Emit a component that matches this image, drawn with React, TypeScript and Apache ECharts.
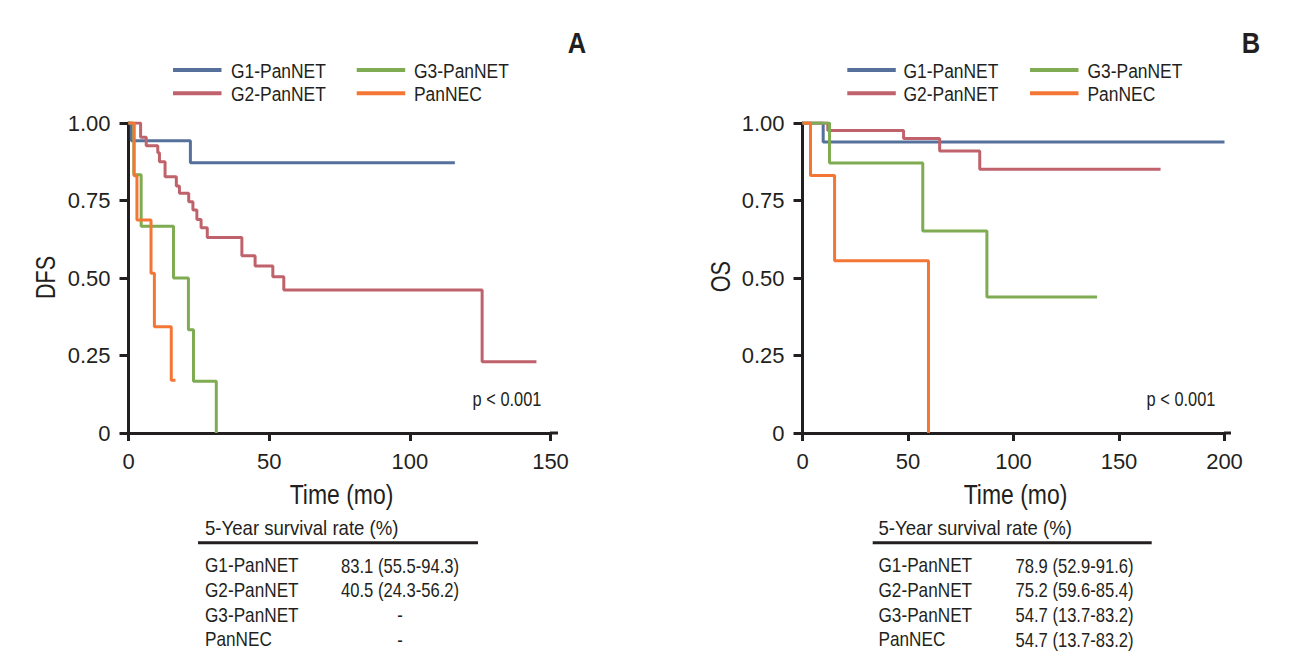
import React, { useEffect, useRef } from "react";
import * as echarts from "echarts";

// ---------- data ----------
const groups = ["G1-PanNET", "G2-PanNET", "G3-PanNET", "PanNEC"];
const colors = ["#56709c", "#c0626b", "#7fab52", "#f47634"];

// Panel A: disease-free survival (time in months, survival probability)
const dfsG1 = [[0, 1], [1, 0.943], [22, 0.872], [116, 0.872]];
const dfsG2 = [
  [0, 1], [4.3, 0.954], [6.3, 0.927], [10.4, 0.904], [11, 0.875], [13, 0.827],
  [17, 0.797], [18.1, 0.773], [21.4, 0.746], [22.9, 0.719], [24.3, 0.689],
  [25.8, 0.662], [28, 0.631], [40.3, 0.572], [45, 0.539], [51.3, 0.504],
  [55.2, 0.461], [125.7, 0.23], [145, 0.23],
];
const dfsG3 = [[0, 1], [1.9, 0.833], [4.5, 0.667], [16, 0.5], [21.3, 0.333], [23.1, 0.167], [31.2, 0]];
const dfsNEC = [[0, 1], [2, 0.83], [3, 0.687], [8, 0.515], [9.2, 0.343], [15.2, 0.17], [16.7, 0.17]];

// Panel B: overall survival
const osG1 = [[0, 1], [9.8, 0.939], [200, 0.939]];
const osG2 = [[0, 1], [12, 0.976], [47.9, 0.95], [65, 0.91], [84, 0.851], [169.7, 0.851]];
const osG3 = [[0, 1], [12.8, 0.871], [57, 0.652], [87.4, 0.439], [139.6, 0.439]];
const osNEC = [[0, 1], [3.8, 0.831], [15.2, 0.556], [59.7, 0]];

const xMaxA = 150;
const xMaxB = 200;
const xInterval = 50;
const yInterval = 0.25;

const tableTitle = "5-Year survival rate (%)";
const dfsRates = ["83.1 (55.5-94.3)", "40.5 (24.3-56.2)", "-", "-"];
const osRates = ["78.9 (52.9-91.6)", "75.2 (59.6-85.4)", "54.7 (13.7-83.2)", "54.7 (13.7-83.2)"];
const pText = "p < 0.001";

// ---------- styling ----------
const FONT = '"Liberation Sans", Arial, sans-serif';
const INK = "#231f20";

export default function App() {
  const ref = useRef<HTMLDivElement>(null);

  useEffect(() => {
    if (!ref.current) return;
    const chart = echarts.init(ref.current, undefined, { renderer: "svg" });

    const mkX = (gridIndex: number, max: number) => ({
      type: "value",
      gridIndex,
      min: 0,
      max,
      interval: xInterval,
      axisLine: { show: true, lineStyle: { color: INK, width: 3 } },
      axisTick: { show: true, length: 8, lineStyle: { color: INK, width: 3 } },
      axisLabel: { color: INK, fontSize: 22, fontFamily: FONT, margin: 17 },
      splitLine: { show: false },
    });
    const mkY = (gridIndex: number) => ({
      type: "value",
      gridIndex,
      min: 0,
      max: 1,
      interval: yInterval,
      axisLine: { show: true, lineStyle: { color: INK, width: 3 } },
      axisTick: { show: true, length: 9, lineStyle: { color: INK, width: 3 } },
      axisLabel: {
        color: INK,
        fontSize: 22,
        fontFamily: FONT,
        margin: 18,
        formatter: (v: number) => (v === 0 ? "0" : v.toFixed(2)),
      },
      splitLine: { show: false },
    });

    const dfsData = [dfsG1, dfsG2, dfsG3, dfsNEC];
    const osData = [osG1, osG2, osG3, osNEC];
    const series: any[] = [];
    dfsData.forEach((d, i) =>
      series.push({
        type: "line", name: groups[i], xAxisIndex: 0, yAxisIndex: 0, step: "end",
        data: d, showSymbol: false, symbol: "none",
        lineStyle: { color: colors[i], width: 3 }, itemStyle: { color: colors[i] },
      })
    );
    osData.forEach((d, i) =>
      series.push({
        type: "line", name: groups[i], xAxisIndex: 1, yAxisIndex: 1, step: "end",
        data: d, showSymbol: false, symbol: "none",
        lineStyle: { color: colors[i], width: 3 }, itemStyle: { color: colors[i] },
      })
    );

    const txt = (text: string, x: number, y: number, size: number, extra: any = {}) => ({
      type: "text",
      x,
      y,
      rotation: extra.rotation || 0,
      scaleX: extra.sx || 1,
      style: {
        text,
        fill: INK,
        fontSize: size,
        fontFamily: FONT,
        fontWeight: extra.bold ? "bold" : "normal",
        align: extra.align || "left",
        verticalAlign: "middle",
      },
    });
    const hline = (x1: number, x2: number, y: number, color: string, w: number) => ({
      type: "line",
      shape: { x1, y1: y, x2, y2: y },
      style: { stroke: color, lineWidth: w },
    });

    const graphics: any[] = [];
    // legends
    const legendPos = [
      { lx: [173, 356.7], tx: [231, 414] },
      { lx: [847.3, 1030], tx: [903.5, 1087.5] },
    ];
    legendPos.forEach((p) => {
      groups.forEach((g, i) => {
        const col = Math.floor(i / 2);
        const row = i % 2;
        const y = row === 0 ? 70 : 93.3;
        graphics.push(hline(p.lx[col], p.lx[col] + 48.5, y, colors[i], 4));
        graphics.push(txt(g, p.tx[col], y + 1, 21, { sx: 0.83 }));
      });
    });
    // panel letters
    graphics.push(txt("A", 577, 43, 30, { bold: true, align: "center", sx: 0.85 }));
    graphics.push(txt("B", 1251, 43, 30, { bold: true, align: "center", sx: 0.85 }));
    // axis titles
    graphics.push(txt("DFS", 46, 277.5, 27, { rotation: Math.PI / 2, align: "center", sx: 0.8 }));
    graphics.push(txt("OS", 720.7, 276.7, 27, { rotation: Math.PI / 2, align: "center", sx: 0.8 }));
    graphics.push(txt("Time (mo)", 341.5, 494, 27, { align: "center", sx: 0.85 }));
    graphics.push(txt("Time (mo)", 1015.5, 494, 27, { align: "center", sx: 0.85 }));
    // p values
    graphics.push(txt(pText, 507, 399, 20, { align: "center", sx: 0.82 }));
    graphics.push(txt(pText, 1181, 399, 20, { align: "center", sx: 0.82 }));
    // axis line extensions
    graphics.push(hline(550, 558, 433, INK, 3));
    graphics.push(hline(1224, 1231, 433, INK, 3));
    // tables
    const tables = [
      { x0: 198, x1: 478, lx: 205, vx: 400, rates: dfsRates },
      { x0: 872.7, x1: 1151.7, lx: 878.5, vx: 1074.5, rates: osRates },
    ];
    const rowY = [565.5, 590, 615, 639.5];
    tables.forEach((t) => {
      graphics.push(txt(tableTitle, t.lx, 528.5, 20, { sx: 0.93 }));
      graphics.push(hline(t.x0, t.x1, 542.7, INK, 3));
      groups.forEach((g, i) => {
        graphics.push(txt(g, t.lx, rowY[i], 20, { sx: 0.86 }));
        graphics.push(txt(t.rates[i], t.vx, rowY[i], 20, { align: "center", sx: 0.83 }));
      });
    });

    chart.setOption({
      animation: false,
      backgroundColor: "#ffffff",
      grid: [
        { left: 128.5, top: 123, width: 422, height: 310, containLabel: false },
        { left: 802.5, top: 123, width: 422, height: 310, containLabel: false },
      ],
      xAxis: [mkX(0, xMaxA), mkX(1, xMaxB)],
      yAxis: [mkY(0), mkY(1)],
      series,
      graphic: graphics,
    });

    return () => chart.dispose();
  }, []);

  return (
    <div
      ref={ref}
      style={{ position: "fixed", left: 0, top: 0, width: 1304, height: 672, background: "#fff" }}
    />
  );
}
